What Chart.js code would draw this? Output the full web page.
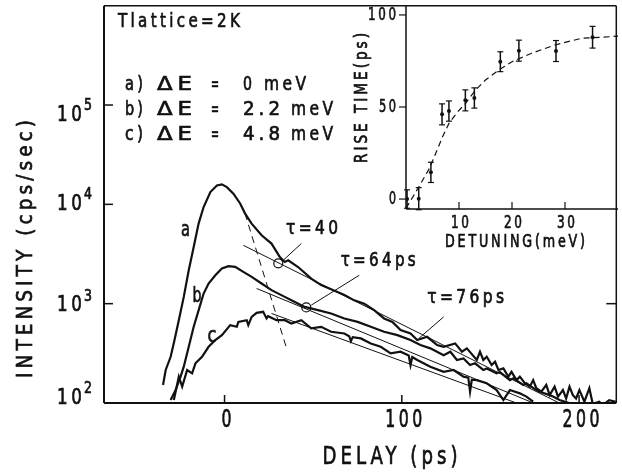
<!DOCTYPE html>
<html>
<head>
<meta charset="utf-8">
<script src="https://cdn.jsdelivr.net/npm/chart.js@4.4.0/dist/chart.umd.min.js"></script>
<style>
    html, body { margin: 0; padding: 0; background: #fff; }
    #wrap { position: relative; width: 622px; height: 473px; }
    #main { position: absolute; left: 0; top: 0; }
    #inset { position: absolute; left: 340px; top: 0; }
</style>
</head>
<body>
<div id="wrap">
    <canvas id="main" width="622" height="473"></canvas>
    <canvas id="inset" width="282" height="260"></canvas>
</div>
<script>
// Curve a) dE = 0 meV
var delayA = [-34.7, -33.2, -30.4, -28.6, -25.8, -23.0, -20.2, -17.4, -14.6, -11.8, -8.0, -4.3, -1.5, 1.3, 5.0, 8.8, 11.6, 15.3, 20.9, 26.5, 31.2, 34.0, 35.9, 41.5, 48.9, 54.5, 61.1, 67.6, 73.2, 78.8, 84.4, 90.0, 94.7, 99.3, 104.9, 108.7, 114.3, 119.9, 123.6, 130.1, 133.9, 136.7, 142.3, 144.1, 146.0, 147.9, 150.7, 152.6, 154.5, 157.3, 160.1, 161.9, 164.7, 166.6, 169.4, 172.2, 174.1, 175.9, 178.7, 181.5, 183.4, 186.2, 188.1, 190.9, 192.7, 194.6, 196.5, 198.3, 200.2, 203.0, 205.8, 207.7, 211.4, 213.3, 217.0, 220.7];
var intensityA = [152, 215, 292, 401, 682, 1170, 2170, 3720, 6440, 9400, 13300, 15500, 15900, 14900, 12800, 10200, 8070, 6400, 4880, 4030, 2950, 2630, 2730, 2340, 1790, 1540, 1370, 1220, 1080, 1000, 861, 710, 656, 542, 502, 430, 464, 383, 368, 398, 328, 355, 271, 328, 271, 292, 241, 260, 215, 223, 184, 206, 170, 184, 158, 146, 170, 141, 130, 152, 120, 146, 116, 135, 111, 146, 120, 111, 135, 103, 141, 98, 103, 95, 107, 103];

// Curve b) dE = 2.2 meV
var delayB = [-30.4, -27.6, -24.8, -23.0, -20.2, -17.4, -14.6, -11.8, -9.0, -5.2, -1.5, 2.2, 6.0, 10.6, 15.3, 20.9, 26.5, 34.0, 37.7, 45.2, 52.7, 60.1, 67.6, 75.1, 82.5, 90.0, 97.5, 104.9, 110.5, 116.1, 123.6, 127.4, 131.1, 134.8, 138.5, 141.3, 146.0, 147.9, 153.5, 155.3, 161.0, 162.9, 168.5, 170.3, 175.9, 177.8, 183.4, 185.3, 189.0, 194.4];
var intensityB = [107, 135, 184, 232, 368, 585, 861, 1265, 1595, 1932, 2258, 2382, 2344, 2088, 1860, 1595, 1368, 1171, 1084, 928, 861, 797, 710, 656, 585, 521, 482, 430, 383, 355, 303, 328, 271, 281, 241, 251, 215, 223, 199, 205, 170, 177, 152, 158, 135, 130, 120, 116, 107, 100];

// Curve c) dE = 4.8 meV
var delayC = [-28.6, -25.8, -23.9, -21.1, -18.3, -16.4, -12.7, -9.0, -5.2, -1.5, 3.2, 6.9, 7.8, 12.5, 13.4, 15.3, 18.1, 21.8, 23.7, 24.6, 29.3, 34.0, 37.7, 43.3, 48.9, 54.5, 60.1, 67.6, 70.3, 71.3, 72.3, 76.9, 82.5, 88.1, 93.7, 99.3, 103.9, 104.9, 105.9, 108.7, 116.1, 123.6, 129.2, 134.8, 137.5, 138.5, 139.5, 142.3, 147.9, 153.5, 157.3, 161.0, 166.6, 170.3, 174.1];
var intensityC = [107, 184, 146, 215, 199, 251, 292, 368, 430, 482, 608, 585, 656, 682, 608, 736, 809, 828, 710, 748, 682, 682, 632, 682, 563, 585, 521, 501, 470, 420, 460, 447, 398, 368, 316, 328, 300, 240, 290, 271, 232, 206, 215, 184, 180, 130, 172, 170, 158, 135, 107, 135, 125, 116, 103];

// exponential fits (straight on log axis) and rise-time guide
var fitDelayA = [10.6, 188.8], fitIntA = [3870, 100];
var fitDelayB = [18.1, 174.2], fitIntB = [1422, 100];
var fitDelayC = [26.5, 164.7], fitIntC = [797, 100];
var riseDelay = [11.5, 35.3], riseInt = [8130, 341];
var circleDelay = [30.3, 46.1], circleInt = [2550, 916];
var ptr40Delay = [43.3, 33.1], ptr40Int = [4030, 2735];
var ptr64Delay = [76.0, 48.9], ptr64Int = [1932, 966];
var ptr76Delay = [123.6, 109.6], ptr76Int = [736, 447];

var xTicks = [0, 100, 200];
var yTicks = [100, 1000, 10000, 100000];
var yTickExp = ['2', '3', '4', '5'];

// Inset: rise time vs detuning
var detuning = [0.2, 2.4, 4.7, 6.8, 8.1, 11.2, 12.9, 17.8, 21.3, 28.3, 35.2];
var riseTime = [0, 0.2, 14.5, 46.0, 47.8, 53.6, 54.9, 74.6, 80.6, 80.4, 87.9];
var riseErr = [5, 6, 5.5, 5.7, 5.5, 5.7, 5.5, 5.4, 5.7, 5.7, 5.9];
var curveDetuning = [0, 1.3, 2.8, 4.4, 5.6, 6.9, 8.1, 9.7, 11.2, 13.1, 15.0, 17.5, 20.0, 23.7, 28.1, 33.1, 38.7, 40];
var curveRise = [-5, 1.2, 8.5, 16.6, 24.8, 33.9, 41.1, 47.2, 51.9, 59.1, 64.7, 70.1, 74.6, 79.2, 83.7, 87.3, 88.2, 88.5];
var insetXTicks = [10, 20, 30];
var insetYTicks = [0, 50, 100];

var FONT = '"DejaVu Sans", sans-serif';
var INK = '#111';

function pts(xs, ys) {
    return xs.map(function (x, i) { return { x: x, y: ys[i] }; });
}

// narrow, letter-spaced lettering squeezed to a target width
function txt(ctx, s, x, y, size, width, align, rot) {
    ctx.save();
    ctx.font = size + 'px ' + FONT;
    var sp = s.length > 1 ? 0.22 * size : 0;
    ctx.letterSpacing = sp + 'px';
    var w = ctx.measureText(s).width - sp;
    var sx = width ? width / w : 0.8;
    ctx.fillStyle = INK;
    ctx.strokeStyle = INK;
    ctx.lineWidth = 0.7;
    ctx.textBaseline = 'middle';
    ctx.textAlign = 'left';
    ctx.translate(x, y);
    if (rot) ctx.rotate(rot);
    ctx.scale(sx, 1);
    var x0 = align === 'center' ? -w / 2 : (align === 'right' ? -w : 0);
    ctx.fillText(s, x0, 0);
    ctx.strokeText(s, x0, 0);
    ctx.restore();
}

function line(ctx, x1, y1, x2, y2, w) {
    ctx.beginPath();
    ctx.lineWidth = w;
    ctx.moveTo(x1, y1);
    ctx.lineTo(x2, y2);
    ctx.stroke();
}

function curve(data, w, dash) {
    return {
        data: data, borderColor: INK, borderWidth: w, pointRadius: 0,
        tension: 0, fill: false, borderDash: dash || []
    };
}

var mainDecor = {
    id: 'mainDecor',
    afterDraw: function (chart) {
        var ctx = chart.ctx, a = chart.chartArea;
        var xs = chart.scales.x, ys = chart.scales.y;
        ctx.save();
        ctx.strokeStyle = INK;
        line(ctx, a.left, a.top, a.left, a.bottom, 2);
        line(ctx, a.left, a.bottom, a.right, a.bottom, 2);
        line(ctx, a.left, a.top, a.right, a.top, 1.5);
        line(ctx, a.right, a.top, a.right, a.bottom, 1.5);

        var yOff = [-5, 2, 0, 10];
        yTicks.forEach(function (v, i) {
            var y = ys.getPixelForValue(v);
            line(ctx, a.left, y, a.left + 9, y, 1.5);
            txt(ctx, '10', 82, y + yOff[i], 22, 25, 'right');
            txt(ctx, yTickExp[i], 84, y + yOff[i] - 9, 15, 8, 'left');
        });
        var y3 = ys.getPixelForValue(1000);
        line(ctx, a.right - 10, y3, a.right, y3, 1.5);

        xTicks.forEach(function (v) {
            var x = xs.getPixelForValue(v);
            line(ctx, x, a.bottom, x, a.bottom - 8, 1.5);
            txt(ctx, String(v), x + 2, 421, 24, v ? 37 : 10, 'center');
        });

        txt(ctx, 'DELAY (ps)', 390, 458, 24, 135, 'center');
        txt(ctx, 'INTENSITY (cps/sec)', 26, 249, 22, 258, 'center', -Math.PI / 2);

        txt(ctx, 'Tlattice=2K', 118, 22, 20, 122, 'left');
        var rows = [['a)', '0'], ['b)', '2.2'], ['c)', '4.8']];
        rows.forEach(function (r, i) {
            var y = 85 + i * 25;
            txt(ctx, r[0], 125, y, 19, 18, 'left');
            txt(ctx, '\u0394E', 157, y, 19, 35, 'left');
            txt(ctx, '=', 211, y, 19, 8, 'left');
            txt(ctx, r[1], 243, y, 19, r[1].length > 1 ? 37 : 9, 'left');
            txt(ctx, 'meV', r[1].length > 1 ? 291 : 264, y, 19, 42, 'left');
        });

        txt(ctx, 'a', xs.getPixelForValue(-22.0), ys.getPixelForValue(5480), 21, 9, 'center');
        txt(ctx, 'b', xs.getPixelForValue(-15.5), ys.getPixelForValue(1170), 21, 9, 'center');
        txt(ctx, 'c', xs.getPixelForValue(-7.1), ys.getPixelForValue(464), 21, 9, 'center');

        txt(ctx, '\u03c4=40', xs.getPixelForValue(34.7), ys.getPixelForValue(5610), 19, 52, 'left');
        txt(ctx, '\u03c4=64ps', xs.getPixelForValue(65.5), ys.getPixelForValue(2670), 19, 75, 'left');
        txt(ctx, '\u03c4=76ps', xs.getPixelForValue(114.3), ys.getPixelForValue(1135), 19, 77, 'left');
        ctx.restore();
    }
};

new Chart(document.getElementById('main').getContext('2d'), {
    type: 'line',
    data: {
        datasets: [
            curve(pts(delayA, intensityA), 2.2),
            curve(pts(delayB, intensityB), 2.2),
            curve(pts(delayC, intensityC), 2.2),
            curve(pts(fitDelayA, fitIntA), 1),
            curve(pts(fitDelayB, fitIntB), 1),
            curve(pts(fitDelayC, fitIntC), 1),
            curve(pts(riseDelay, riseInt), 1, [7, 5]),
            curve(pts(ptr40Delay, ptr40Int), 1),
            curve(pts(ptr64Delay, ptr64Int), 1),
            curve(pts(ptr76Delay, ptr76Int), 1),
            {
                data: pts(circleDelay, circleInt), showLine: false,
                pointRadius: 4.5, pointBorderWidth: 1.2, pointBorderColor: INK,
                pointBackgroundColor: 'rgba(0,0,0,0)'
            }
        ]
    },
    options: {
        responsive: false,
        animation: false,
        layout: { padding: { left: 104, top: 5, right: 2, bottom: 70 } },
        plugins: { legend: { display: false }, tooltip: { enabled: false } },
        scales: {
            x: { type: 'linear', min: -68, max: 221, display: false },
            y: { type: 'logarithmic', min: 100, max: 1000000, display: false }
        }
    },
    plugins: [mainDecor]
});

var insetDecor = {
    id: 'insetDecor',
    afterDatasetsDraw: function (chart) {
        var ctx = chart.ctx, xs = chart.scales.x, ys = chart.scales.y;
        ctx.save();
        ctx.strokeStyle = INK;
        detuning.forEach(function (d, i) {
            var x = xs.getPixelForValue(d);
            var y1 = ys.getPixelForValue(riseTime[i] - riseErr[i]);
            var y2 = ys.getPixelForValue(riseTime[i] + riseErr[i]);
            line(ctx, x, y1, x, y2, 1.5);
            line(ctx, x - 3, y1, x + 3, y1, 1.2);
            line(ctx, x - 3, y2, x + 3, y2, 1.2);
        });
        ctx.restore();
    },
    afterDraw: function (chart) {
        var ctx = chart.ctx, a = chart.chartArea;
        var xs = chart.scales.x, ys = chart.scales.y;
        ctx.save();
        ctx.strokeStyle = INK;
        line(ctx, a.left, a.top, a.left, a.bottom, 1.5);
        line(ctx, a.left, a.bottom, a.right, a.bottom, 1.5);
        insetXTicks.forEach(function (v) {
            var x = xs.getPixelForValue(v);
            line(ctx, x, a.bottom, x, a.bottom - 7, 1.2);
            txt(ctx, String(v), x + 1, 223, 18, 18, 'center');
        });
        var yw = [7, 17, 28];
        insetYTicks.forEach(function (v, i) {
            var y = ys.getPixelForValue(v);
            line(ctx, a.left - 7, y, a.left, y, 1.2);
            txt(ctx, String(v), a.left - 10, y, 18, yw[i], 'right');
        });
        txt(ctx, 'DETUNING(meV)', 175, 243, 17, 140, 'center');
        txt(ctx, 'RISE TIME(ps)', 23, 98, 17, 130, 'center', -Math.PI / 2);
        ctx.restore();
    }
};

new Chart(document.getElementById('inset').getContext('2d'), {
    type: 'line',
    data: {
        datasets: [
            curve(pts(curveDetuning, curveRise), 1.2, [6, 4]),
            {
                data: pts(detuning, riseTime), showLine: false,
                pointRadius: 2, pointBorderWidth: 0, pointBackgroundColor: INK
            }
        ]
    },
    options: {
        responsive: false,
        animation: false,
        layout: { padding: { left: 66, top: 5, right: 2, bottom: 51 } },
        plugins: { legend: { display: false }, tooltip: { enabled: false } },
        scales: {
            x: { type: 'linear', min: 0, max: 40, display: false },
            y: { type: 'linear', min: -5.4, max: 105.4, display: false }
        }
    },
    plugins: [insetDecor]
});
</script>
</body>
</html>
